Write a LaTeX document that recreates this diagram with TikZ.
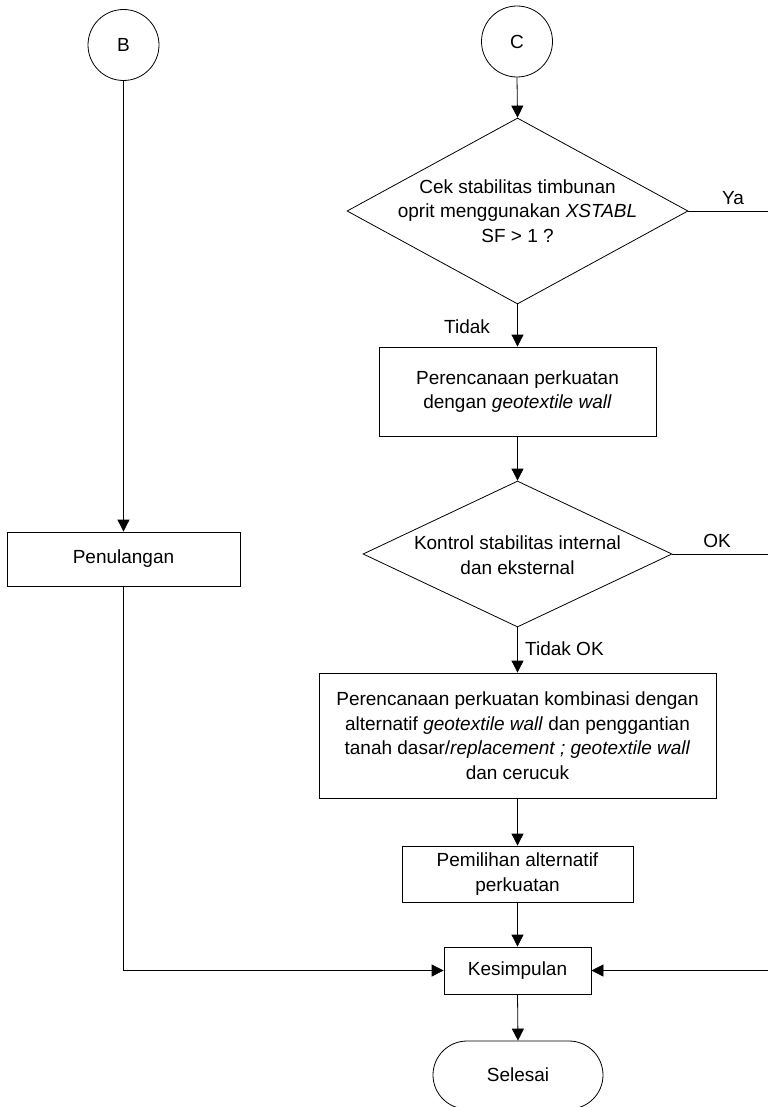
\documentclass[tikz,border=0pt]{standalone}
\usepackage{fontspec}
\setmainfont{Liberation Sans}
\usetikzlibrary{shapes.geometric,shapes.misc,arrows.meta}
\tikzset{
  base/.style={line width=0.8pt},
  txt/.style={font=\fontsize{19}{24.5}\selectfont, align=center, inner sep=0pt},
  proc/.style={base, draw, rectangle, inner sep=0pt, txt},
  conn/.style={base, draw, circle, minimum size=71pt, inner sep=0pt, txt},
  dec/.style={base, draw, diamond, inner sep=0pt},
  term/.style={base, draw, rounded rectangle, inner sep=0pt, txt},
  arr/.style={base, -{Triangle[length=12pt,width=12pt]}},
  ln/.style={base},
  lbl/.style={txt}
}
\begin{document}
\begin{tikzpicture}[x=1pt,y=-1pt]
\fill[white] (0,0) rectangle (768,1107);
\useasboundingbox (0,0) rectangle (768,1107);
\clip (0,0) rectangle (768,1107);

% connectors (start points)
\node[conn] (B) at (123.5,45) {B};
\node[conn] (C) at (517,41.5) {C};

\node[dec, minimum width=341pt, minimum height=186pt] (d1) at (517.5,211) {};
\node[txt] (d1t) at (517.5,211) {Cek stabilitas timbunan\\oprit menggunakan \textit{XSTABL}\\SF > 1 ?};

\node[proc, minimum width=277pt, minimum height=89pt] (p1) at (517.5,391.5) {Perencanaan perkuatan\\dengan \textit{geotextile wall}};

\node[dec, minimum width=309pt, minimum height=146pt] (d2) at (517.5,554) {};
\node[txt] (d2t) at (517.5,555) {Kontrol stabilitas internal\\dan eksternal};

\node[proc, minimum width=397pt, minimum height=125pt] (p2) at (517.5,735.5) {Perencanaan perkuatan kombinasi dengan\\alternatif \textit{geotextile wall} dan penggantian\\tanah dasar/\textit{replacement ; geotextile wall}\\dan cerucuk};

\node[proc, minimum width=231pt, minimum height=56pt] (p3) at (517.5,874) {Pemilihan alternatif\\perkuatan};

\node[proc, minimum width=147pt, minimum height=47pt] (k) at (517.5,970.5) {Kesimpulan};

\node[term, minimum width=170pt, minimum height=68pt] (s) at (518,1075) {Selesai};

\node[proc, minimum width=233pt, minimum height=54pt] (pen) at (123.5,559) {Penulangan};

% free ends at the right edge
\coordinate (yaEnd) at (768,211);
\coordinate (okEnd) at (768,554);
\coordinate (rIn) at (768,970.5);
\coordinate (lCorner) at (123.5,970.5);

% edges
\draw[arr] (B.south) -- (pen.north);
\draw[arr] (C.south) -- (d1.north);
\draw[ln] (d1.east) -- (yaEnd);
\draw[arr] (d1.south) -- (p1.north);
\draw[arr] (p1.south) -- (d2.north);
\draw[ln] (d2.east) -- (okEnd);
\draw[arr] (d2.south) -- (p2.north);
\draw[arr] (p2.south) -- (p3.north);
\draw[arr] (p3.south) -- (k.north);
\draw[arr] (pen.south) -- (lCorner) -- (k.west);
\draw[arr] (rIn) -- (k.east);
\draw[arr] (k.south) -- (s.north);

% labels
\node[lbl] (lya) at (733,198) {Ya};
\node[lbl] (lok) at (717,541) {OK};
\node[lbl] (ltidak) at (467,327) {Tidak};
\node[lbl, anchor=west] (ltidakok) at (525,649) {Tidak OK};
\end{tikzpicture}
\end{document}
